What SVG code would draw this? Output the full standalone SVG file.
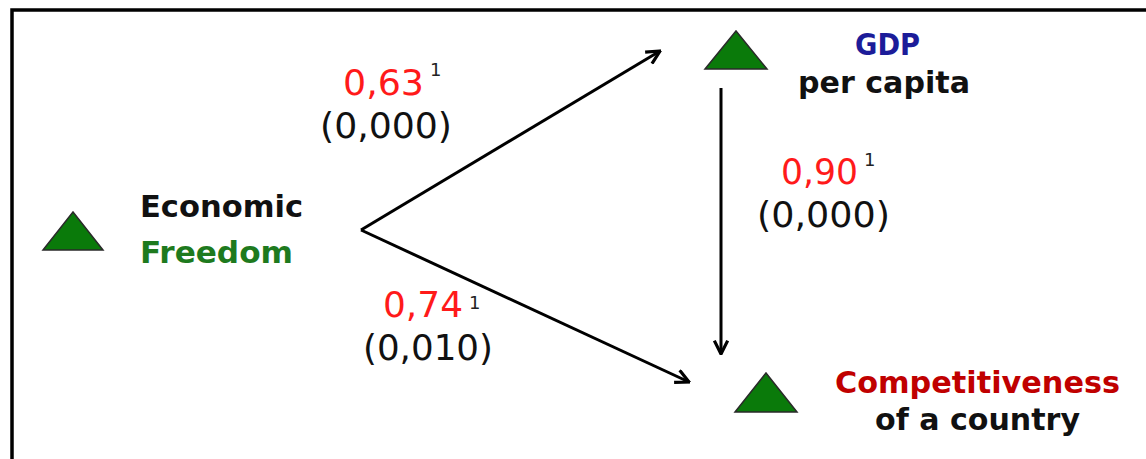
<svg xmlns="http://www.w3.org/2000/svg" width="1146" height="459" viewBox="0 0 1146 459">
<style>
.b{font-family:"DejaVu Sans",Verdana,sans-serif;font-weight:bold;font-size:30px}
.n{font-family:"DejaVu Sans",Verdana,sans-serif;font-size:36px}
.s{font-family:"DejaVu Sans",Verdana,sans-serif;font-size:18px;fill:#222}
.red{fill:#ff1a1a}
.blk{fill:#111}
.tri{fill:#0a7a0a;stroke:#2a2a2a;stroke-width:1.5}
.ln{stroke:#000;stroke-width:3;fill:none}
</style>
<defs>
<marker id="ah" viewBox="0 0 12 12" refX="11" refY="6" markerWidth="16" markerHeight="16" markerUnits="userSpaceOnUse" orient="auto">
<path d="M1,1 L11,6 L1,11" fill="none" stroke="#000" stroke-width="2.4"/>
</marker>
</defs>
<rect width="1146" height="459" fill="#fff"/>
<path d="M12,470 L12,10 L1160,10" fill="none" stroke="#000" stroke-width="3.5"/>
<g id="connectors">
<line class="ln" x1="361" y1="230" x2="660" y2="51" marker-end="url(#ah)"/>
<line class="ln" x1="361" y1="230" x2="689" y2="382" marker-end="url(#ah)"/>
<line class="ln" x1="721" y1="88" x2="721" y2="354" marker-end="url(#ah)"/>
</g>
<g id="economic-freedom">
<polygon class="tri" points="43,250 103,250 73,212"/>
<text class="b blk" x="140" y="217" textLength="163" lengthAdjust="spacingAndGlyphs">Economic</text>
<text class="b" x="140" y="263" fill="#1e7a1e" textLength="153" lengthAdjust="spacingAndGlyphs">Freedom</text>
</g>
<g id="gdp">
<polygon class="tri" points="705,69 767,69 736,31"/>
<text class="b" x="855" y="55" fill="#1c1c99" textLength="65" lengthAdjust="spacingAndGlyphs">GDP</text>
<text class="b blk" x="798" y="93" textLength="172" lengthAdjust="spacingAndGlyphs">per capita</text>
</g>
<g id="competitiveness">
<polygon class="tri" points="735,412 797,412 766,373"/>
<text class="b" x="835" y="393" fill="#c00000" textLength="285" lengthAdjust="spacingAndGlyphs">Competitiveness</text>
<text class="b blk" x="875" y="430" textLength="205" lengthAdjust="spacingAndGlyphs">of a country</text>
</g>
<g id="label-ef-gdp">
<text class="n red" x="343" y="95" textLength="81" lengthAdjust="spacingAndGlyphs">0,63</text>
<text class="s" x="430" y="76">1</text>
<text class="n blk" x="320" y="138" textLength="132" lengthAdjust="spacingAndGlyphs">(0,000)</text>
</g>
<g id="label-ef-comp">
<text class="n red" x="383" y="317" textLength="80" lengthAdjust="spacingAndGlyphs">0,74</text>
<text class="s" x="469" y="309">1</text>
<text class="n blk" x="363" y="360" textLength="130" lengthAdjust="spacingAndGlyphs">(0,010)</text>
</g>
<g id="label-gdp-comp">
<text class="n red" x="781" y="184" font-size="34" textLength="77" lengthAdjust="spacingAndGlyphs">0,90</text>
<text class="s" x="864" y="166" font-size="16">1</text>
<text class="n blk" x="757" y="227" textLength="133" lengthAdjust="spacingAndGlyphs">(0,000)</text>
</g>
</svg>
